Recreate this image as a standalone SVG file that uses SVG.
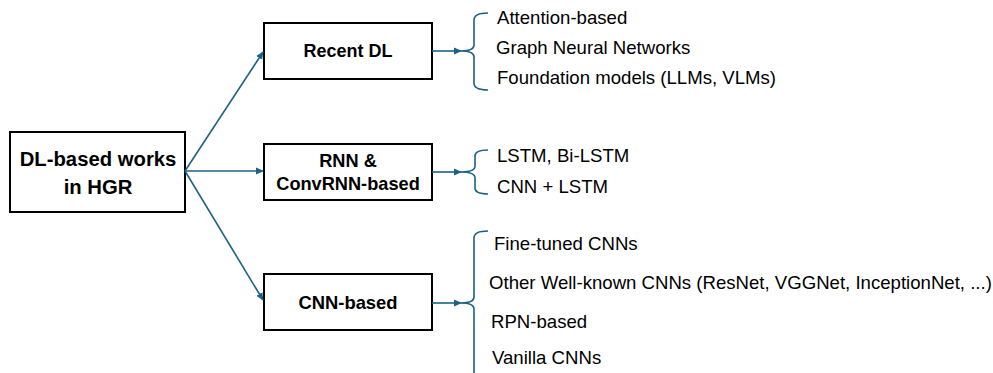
<svg xmlns="http://www.w3.org/2000/svg" width="993" height="373" viewBox="0 0 993 373">
<defs>
<marker id="ah" markerWidth="8" markerHeight="8" refX="7" refY="4" orient="auto" markerUnits="userSpaceOnUse">
<path d="M0,0.5 L8,4 L0,7.5 Z" fill="#1C6284"/>
</marker>
<style>
.box{fill:#fff;stroke:#000;stroke-width:2}
.bt{font-family:"Liberation Sans",Arial,sans-serif;font-weight:bold;fill:#000;text-anchor:middle;dominant-baseline:central}
.lt{font-family:"Liberation Sans",Arial,sans-serif;font-size:18.6px;fill:#000;dominant-baseline:central}
.cn{fill:none;stroke:#1C6284;stroke-width:1.6}
</style>
</defs>
<rect width="993" height="373" fill="#fff"/>
<g id="root">
<rect class="box" x="10" y="132" width="175" height="80"/>
<text class="bt" x="98" y="159" font-size="20.3">DL-based works</text>
<text class="bt" x="98" y="187" font-size="20.3">in HGR</text>
</g>
<g id="recent">
<rect class="box" x="264" y="23" width="168" height="56"/>
<text class="bt" x="348" y="51" font-size="18">Recent DL</text>
</g>
<g id="rnn">
<rect class="box" x="264" y="144" width="168" height="56"/>
<text class="bt" x="348" y="161" font-size="18.2">RNN &amp;</text>
<text class="bt" x="348" y="184" font-size="18.2">ConvRNN-based</text>
</g>
<g id="cnn">
<rect class="box" x="264" y="274" width="168" height="56"/>
<text class="bt" x="348" y="302" font-size="18.4">CNN-based</text>
</g>
<g id="connectors">
<line class="cn" x1="185" y1="171" x2="263" y2="52" marker-end="url(#ah)"/>
<line class="cn" x1="185" y1="171" x2="263" y2="171" marker-end="url(#ah)"/>
<line class="cn" x1="185" y1="171" x2="263" y2="300" marker-end="url(#ah)"/>
<line class="cn" x1="432" y1="51" x2="461" y2="51" marker-end="url(#ah)"/>
<line class="cn" x1="432" y1="172" x2="461" y2="172" marker-end="url(#ah)"/>
<line class="cn" x1="432" y1="303" x2="461" y2="303" marker-end="url(#ah)"/>
<path class="cn" d="M488,13 Q474,13 474,20 L474,45 Q474,51 461,51 Q474,51 474,57 L474,83 Q474,90 488,90"/>
<path class="cn" d="M488,150 Q475,150 475,156 L475,166 Q475,172 461,172 Q475,172 475,178 L475,188 Q475,194 488,194"/>
<path class="cn" d="M488,231 Q474,231 474,238 L474,297 Q474,303 461,303 Q474,303 474,309 L474,373"/>
</g>
<g id="items">
<text class="lt" x="497" y="17">Attention-based</text>
<text class="lt" x="496" y="47">Graph Neural Networks</text>
<text class="lt" x="497" y="77">Foundation models (LLMs, VLMs)</text>
<text class="lt" x="497" y="155">LSTM, Bi-LSTM</text>
<text class="lt" x="497" y="186">CNN + LSTM</text>
<text class="lt" x="494" y="243">Fine-tuned CNNs</text>
<text class="lt" x="489" y="282">Other Well-known CNNs (ResNet, VGGNet, InceptionNet, ...)</text>
<text class="lt" x="491" y="321">RPN-based</text>
<text class="lt" x="492" y="357">Vanilla CNNs</text>
</g>
</svg>
